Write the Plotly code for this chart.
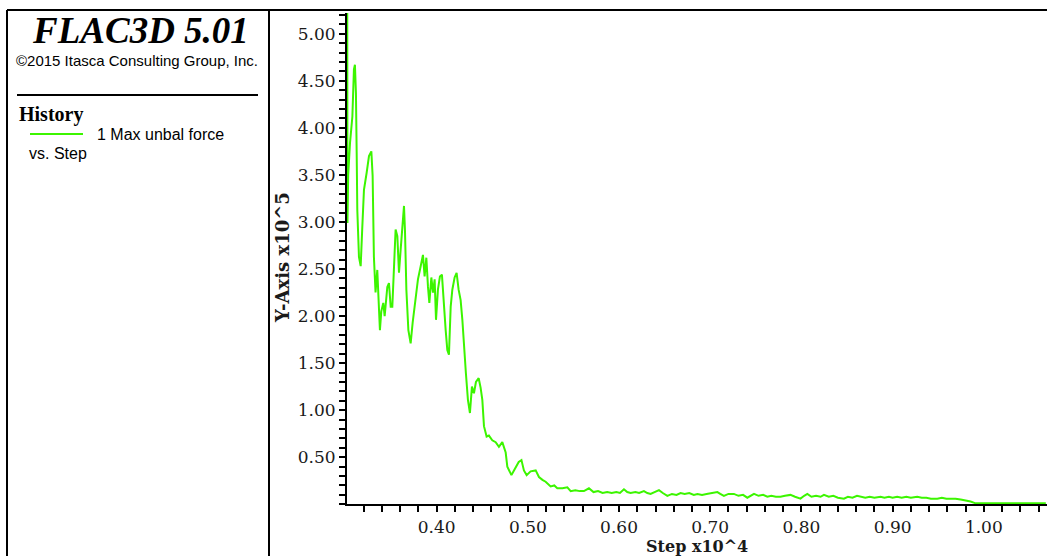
import plotly.graph_objects as go

# ---- History 1: maximum unbalanced force vs. step (step in x10^4, force in x10^5)
step = [
    0.3020, 0.3022, 0.3030, 0.3050, 0.3076, 0.3093, 0.3104, 0.3115, 0.3123, 0.3130,
    0.3148, 0.3167, 0.3185, 0.3203, 0.3232, 0.3258, 0.3284, 0.3298, 0.3312, 0.3330,
    0.3349, 0.3367, 0.3378, 0.3393, 0.3415, 0.3430, 0.3459, 0.3477, 0.3496, 0.3514,
    0.3532, 0.3550, 0.3569, 0.3587, 0.3605, 0.3624, 0.3642, 0.3653, 0.3668, 0.3690,
    0.3715, 0.3737, 0.3770, 0.3795, 0.3825, 0.3850, 0.3868, 0.3887, 0.3905, 0.3920,
    0.3942, 0.3960, 0.3978, 0.3993, 0.4014, 0.4036, 0.4058, 0.4073, 0.4099, 0.4117,
    0.4135, 0.4154, 0.4172, 0.4197, 0.4219, 0.4241, 0.4263, 0.4282, 0.4300, 0.4321,
    0.4343, 0.4365, 0.4387, 0.4409, 0.4431, 0.4461, 0.4482, 0.4501, 0.4519, 0.4548,
    0.4573, 0.4610, 0.4647, 0.4683, 0.4720, 0.4757, 0.4775, 0.4820, 0.4848, 0.4900,
    0.4930, 0.4957, 0.4987, 0.5030, 0.5086, 0.5122, 0.5160, 0.5195, 0.5250, 0.5290,
    0.5323, 0.5380, 0.5433, 0.5470, 0.5520, 0.5570, 0.5615, 0.5670, 0.5720, 0.5770,
    0.5820, 0.5870, 0.5920, 0.5970, 0.6010, 0.6054, 0.6090, 0.6127, 0.6180, 0.6220,
    0.6273, 0.6310, 0.6346, 0.6390, 0.6438, 0.6480, 0.6530, 0.6580, 0.6630, 0.6675,
    0.6720, 0.6770, 0.6820, 0.6860, 0.6910, 0.6960, 0.7015, 0.7078, 0.7110, 0.7150,
    0.7200, 0.7260, 0.7310, 0.7360, 0.7407, 0.7448, 0.7480, 0.7530, 0.7580, 0.7626,
    0.7670, 0.7720, 0.7770, 0.7820, 0.7880, 0.7930, 0.7990, 0.8030, 0.8065, 0.8110,
    0.8160, 0.8210, 0.8247, 0.8300, 0.8350, 0.8400, 0.8466, 0.8510, 0.8560, 0.8610,
    0.8650, 0.8700, 0.8750, 0.8800, 0.8868, 0.8910, 0.8960, 0.9000, 0.9050, 0.9100,
    0.9150, 0.9200, 0.9270, 0.9320, 0.9370, 0.9420, 0.9490, 0.9540, 0.9590, 0.9636,
    0.9690, 0.9746, 0.9800, 0.9855, 0.9910, 0.9960, 1.0020, 1.0100, 1.0180, 1.0260,
    1.0340, 1.0420, 1.0500, 1.0580, 1.0680,
]
max_unbal = [
    5.22, 2.99, 3.50, 3.84, 4.12, 4.62, 4.67, 4.37, 3.74, 3.13,
    2.63, 2.53, 2.95, 3.34, 3.52, 3.70, 3.75, 3.49, 2.63, 2.25,
    2.49, 2.07, 1.85, 2.05, 2.14, 2.00, 2.31, 2.35, 2.10, 2.10,
    2.56, 2.92, 2.85, 2.46, 2.70, 2.95, 3.17, 2.90, 2.28, 1.85,
    1.71, 1.93, 2.17, 2.39, 2.53, 2.65, 2.42, 2.62, 2.31, 2.14,
    2.41, 2.25, 2.39, 1.96, 2.28, 2.42, 2.44, 2.17, 1.85, 1.64,
    1.59, 2.10, 2.28, 2.41, 2.46, 2.28, 2.17, 1.96, 1.64, 1.39,
    1.11, 0.97, 1.25, 1.18, 1.30, 1.34, 1.24, 1.11, 0.83, 0.72,
    0.73, 0.68, 0.66, 0.61, 0.66, 0.55, 0.40, 0.31, 0.36, 0.45,
    0.47, 0.36, 0.31, 0.35, 0.36, 0.29, 0.26, 0.24, 0.19, 0.20,
    0.17, 0.17, 0.18, 0.14, 0.15, 0.14, 0.14, 0.17, 0.13, 0.14,
    0.12, 0.13, 0.12, 0.13, 0.12, 0.16, 0.13, 0.12, 0.13, 0.12,
    0.14, 0.12, 0.11, 0.13, 0.15, 0.12, 0.09, 0.11, 0.10, 0.12,
    0.11, 0.12, 0.10, 0.11, 0.10, 0.11, 0.12, 0.13, 0.11, 0.09,
    0.11, 0.11, 0.09, 0.10, 0.07, 0.09, 0.11, 0.09, 0.10, 0.08,
    0.09, 0.08, 0.08, 0.09, 0.10, 0.08, 0.06, 0.09, 0.11, 0.08,
    0.09, 0.08, 0.10, 0.08, 0.09, 0.07, 0.06, 0.08, 0.07, 0.09,
    0.08, 0.07, 0.08, 0.07, 0.08, 0.07, 0.08, 0.07, 0.08, 0.07,
    0.08, 0.07, 0.08, 0.07, 0.07, 0.06, 0.06, 0.07, 0.06, 0.06,
    0.06, 0.05, 0.04, 0.03, 0.01, 0.01, 0.01, 0.01, 0.01, 0.01,
    0.01, 0.01, 0.01, 0.01, 0.01,
]

x_tick_vals = [0.40, 0.50, 0.60, 0.70, 0.80, 0.90, 1.00]
x_tick_text = ["0.40", "0.50", "0.60", "0.70", "0.80", "0.90", "1.00"]
y_tick_vals = [0.50, 1.00, 1.50, 2.00, 2.50, 3.00, 3.50, 4.00, 4.50, 5.00]
y_tick_text = ["0.50", "1.00", "1.50", "2.00", "2.50", "3.00", "3.50", "4.00", "4.50", "5.00"]

W, H = 1047, 556
LIME = "#3cf500"
INK = "#1a1a1a"


def px(x):
    return x / W


def py(y):
    return 1 - y / H


fig = go.Figure()
fig.add_trace(go.Scatter(
    x=step, y=max_unbal, mode="lines",
    line=dict(color=LIME, width=2), showlegend=False, hoverinfo="skip",
))

axis_common = dict(
    showline=True, linecolor="black", linewidth=2, mirror=False,
    ticks="outside", ticklen=6, tickwidth=2, tickcolor="black",
    showgrid=False, zeroline=False,
    tickfont=dict(family="DejaVu Serif", size=17, color=INK),
)

fig.update_layout(
    width=W, height=H,
    margin=dict(l=0, r=0, t=0, b=0),
    paper_bgcolor="white", plot_bgcolor="white",
    xaxis=dict(
        domain=[px(347), 1.0], range=[0.3017, 1.0693],
        tickmode="array", tickvals=x_tick_vals, ticktext=x_tick_text,
        minor=dict(dtick=0.02, tick0=0.30, ticks="outside", ticklen=6,
                   tickwidth=2, tickcolor="black", showgrid=False),
        **axis_common,
    ),
    yaxis=dict(
        domain=[py(504.3), py(13)], range=[0, 5.22],
        tickmode="array", tickvals=y_tick_vals, ticktext=y_tick_text,
        minor=dict(dtick=0.1, tick0=0, ticks="outside", ticklen=6,
                   tickwidth=2, tickcolor="black", showgrid=False),
        **axis_common,
    ),
)

# frame and panel dividers
frame_lines = [
    ((7, 10), (W, 10)),
    ((7, 10), (7, H)),
    ((269, 10), (269, H)),
    ((17, 95), (258, 95)),
]
for (x0, y0), (x1, y1) in frame_lines:
    fig.add_shape(type="line", xref="paper", yref="paper",
                  x0=px(x0), y0=py(y0), x1=px(x1), y1=py(y1),
                  line=dict(color="black", width=2))

# legend sample line
fig.add_shape(type="line", xref="paper", yref="paper",
              x0=px(30), y0=py(134), x1=px(83), y1=py(134),
              line=dict(color=LIME, width=2))


def note(text, x, y, size, family, xanchor="center", angle=0, color="black"):
    fig.add_annotation(
        text=text, x=px(x), y=py(y), xref="paper", yref="paper",
        xanchor=xanchor, yanchor="middle", showarrow=False, textangle=angle,
        font=dict(family=family, size=size, color=color),
    )


note("<b><i>FLAC3D 5.01</i></b>", 140, 31, 37, "Liberation Serif")
note("©2015 Itasca Consulting Group, Inc.", 137, 60, 15, "Liberation Sans")
note("<b>History</b>", 17, 114, 20, "Liberation Serif", xanchor="left")
note("1 Max unbal force", 95, 134, 16, "Liberation Sans", xanchor="left")
note("vs. Step", 27, 153, 16, "Liberation Sans", xanchor="left")
note("<b>Y-Axis x10^5</b>", 282, 258, 18, "DejaVu Serif", angle=-90, color=INK)
note("<b>Step x10^4</b>", 697, 546.5, 16, "DejaVu Serif", color=INK)

fig.write_html("out.html")
